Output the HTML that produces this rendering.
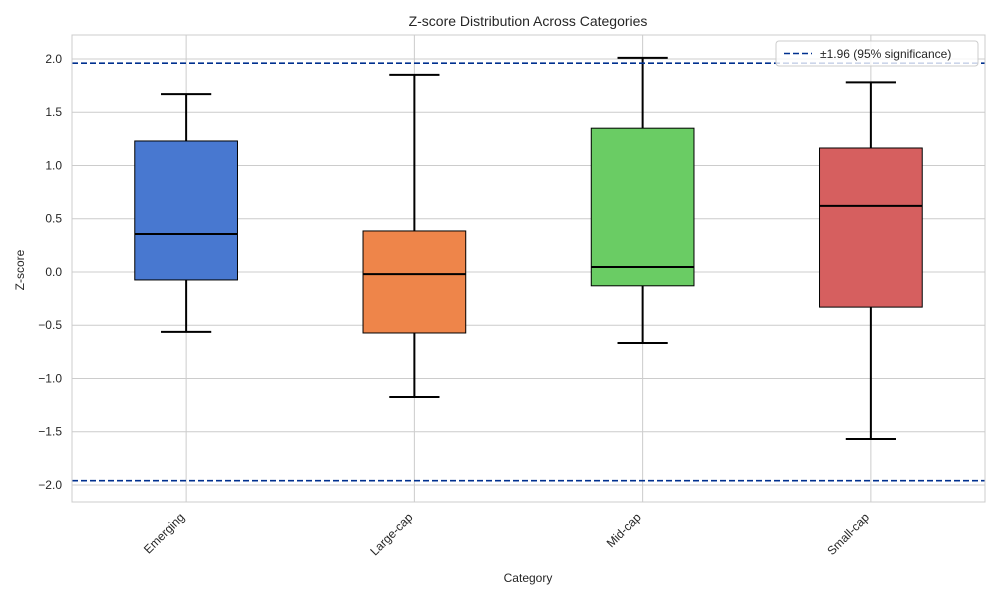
<!DOCTYPE html>
<html><head><meta charset="utf-8"><style>
body{margin:0;background:#fff;font-family:"Liberation Sans","DejaVu Sans",sans-serif}
svg text{font-family:"Liberation Sans","DejaVu Sans",sans-serif;fill:#262626}
</style></head><body>
<svg id="chart" width="1000" height="600">
<rect x="0" y="0" width="1000" height="600" fill="#fff"/>
<g id="grid"></g><g id="boxes"></g><g id="axes"></g>
</svg>
<script>
const categories=["Emerging","Large-cap","Mid-cap","Small-cap"];
const whiskerLow=[-0.563,-1.174,-0.667,-1.568];
const q1=[-0.075,-0.573,-0.13,-0.33];
const median=[0.357,-0.02,0.047,0.62];
const q3=[1.23,0.385,1.35,1.164];
const whiskerHigh=[1.67,1.85,2.01,1.78];
const colors=["#4878d0","#ee854a","#6acc64","#d65f5f"];
const yTicks=[-2.0,-1.5,-1.0,-0.5,0.0,0.5,1.0,1.5,2.0];
const sigLevel=1.96;

const L=72,R=985,T=35,B=502,yMin=-2.16,yMax=2.225;
const NS="http://www.w3.org/2000/svg";
const y=v=>B-(v-yMin)/(yMax-yMin)*(B-T);
const step=(R-L)/categories.length;
const x=i=>L+step*(i+0.5);
function mk(p,t,a){const e=document.createElementNS(NS,t);for(const k in a)e.setAttribute(k,a[k]);p.appendChild(e);return e;}
const grid=document.getElementById('grid'),boxes=document.getElementById('boxes'),axes=document.getElementById('axes');
yTicks.forEach(v=>{
 const l=mk(grid,'line',{x1:L,x2:R,y1:y(v),y2:y(v),stroke:'#cccccc','stroke-width':1});
 
 
 const t=mk(axes,'text',{x:L-10,y:y(v)+4,'text-anchor':'end','font-size':12});
 t.textContent=v.toFixed(1).replace('-','−');
 
 
});
categories.forEach((c,i)=>{
 const gl=mk(grid,'line',{x1:x(i),x2:x(i),y1:T,y2:B,stroke:'#cccccc','stroke-width':1});
 
 
 const g=mk(boxes,'g',{});
 
 
 const cx=x(i),hw=step*0.225,cw=step*0.11;
 mk(g,'line',{x1:cx,x2:cx,y1:y(q3[i]),y2:y(whiskerHigh[i]),stroke:'#000','stroke-width':2});
 mk(g,'line',{x1:cx,x2:cx,y1:y(q1[i]),y2:y(whiskerLow[i]),stroke:'#000','stroke-width':2});
 mk(g,'line',{x1:cx-cw,x2:cx+cw,y1:y(whiskerHigh[i]),y2:y(whiskerHigh[i]),stroke:'#000','stroke-width':2});
 mk(g,'line',{x1:cx-cw,x2:cx+cw,y1:y(whiskerLow[i]),y2:y(whiskerLow[i]),stroke:'#000','stroke-width':2});
 mk(g,'rect',{x:cx-hw,y:y(q3[i]),width:2*hw,height:y(q1[i])-y(q3[i]),fill:colors[i],stroke:'#000','stroke-width':1});
 mk(g,'line',{x1:cx-hw,x2:cx+hw,y1:y(median[i]),y2:y(median[i]),stroke:'#000','stroke-width':2});
 const t=mk(axes,'text',{'font-size':12,'text-anchor':'end',transform:`translate(${cx-1},${B+16}) rotate(-45)`});
 t.textContent=c;
 
 
});
[sigLevel,-sigLevel].forEach(v=>{
 const l=mk(boxes,'line',{x1:L,x2:R,y1:y(v),y2:y(v),stroke:'#00308f','stroke-width':1.6,'stroke-dasharray':'6,3'});
 
 
});
const fr=mk(axes,'rect',{x:L,y:T,width:R-L,height:B-T,fill:'none',stroke:'#cccccc','stroke-width':1});


</script>
<svg style="position:absolute;left:0;top:0" width="1000" height="600">
<text x="528" y="26" text-anchor="middle" font-size="14">Z-score Distribution Across Categories</text>
<text x="528" y="582" text-anchor="middle" font-size="12">Category</text>
<text transform="translate(24,270) rotate(-90)" text-anchor="middle" font-size="12">Z-score</text>
<g>
<rect x="776" y="41" width="202" height="25" rx="3" fill="#fff" fill-opacity="0.8" stroke="#cccccc"/>
<line x1="784" x2="812" y1="53.5" y2="53.5" stroke="#00308f" stroke-width="1.6" stroke-dasharray="6,3"/>
<text x="820" y="58" font-size="12">±1.96 (95% significance)</text>
</g>
</svg>
</body></html>
